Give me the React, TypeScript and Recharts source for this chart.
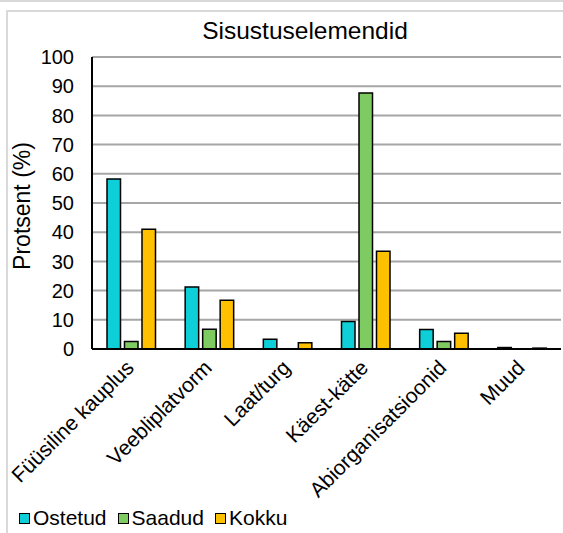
import { BarChart, Bar, XAxis, YAxis, CartesianGrid } from 'recharts';

const categories = ['Füüsiline kauplus', 'Veebliplatvorm', 'Laat/turg', 'Käest-kätte', 'Abiorganisatsioonid', 'Muud'];
const ostetud = [58.2, 21.2, 3.3, 9.4, 6.7, 0.5];
const saadud = [2.6, 6.8, 0, 87.7, 2.6, 0];
const kokku = [41, 16.7, 2.1, 33.5, 5.4, 0.3];
const yTicks = [0, 10, 20, 30, 40, 50, 60, 70, 80, 90, 100];

const series = [
  { name: 'Ostetud', values: ostetud, color: '#0ECFD8' },
  { name: 'Saadud', values: saadud, color: '#7ECB61' },
  { name: 'Kokku', values: kokku, color: '#FFC000' },
];

const data = categories.map((cat, i) => {
  const row: Record<string, string | number> = { category: cat };
  series.forEach((s) => {
    row[s.name] = s.values[i];
  });
  return row;
});

const FONT = '"Liberation Sans", Arial, sans-serif';

function CategoryTick({ x, y, payload }: any) {
  const ax = x + 4;
  const ay = y + 12;
  return (
    <text
      x={ax}
      y={ay}
      transform={`rotate(-45 ${ax} ${ay})`}
      textAnchor="end"
      fontSize={21}
      fontFamily={FONT}
      fill="#000"
    >
      {payload.value}
    </text>
  );
}

function YLabel({ viewBox }: any) {
  const x = (viewBox?.x ?? 0) + 22;
  const y = (viewBox?.y ?? 0) + (viewBox?.height ?? 0) / 2 + 3;
  return (
    <text
      x={x}
      y={y}
      transform={`rotate(-90 ${x} ${y})`}
      textAnchor="middle"
      dominantBaseline="central"
      fontSize={23}
      fontFamily={FONT}
      fill="#000"
    >
      Protsent (%)
    </text>
  );
}

export default function App() {
  return (
    <div style={{ position: 'absolute', left: 0, top: 0, width: 563, height: 533, background: '#fff', overflow: 'hidden', fontFamily: FONT }}>
      <div style={{ position: 'absolute', left: 0, top: 0, width: 563, height: 2, background: '#d9d9d9' }} />
      <div style={{ position: 'absolute', left: 6, top: 10, width: 600, height: 600, border: '2px solid #d9d9d9', boxSizing: 'border-box' }} />
      <div style={{ position: 'absolute', left: 155, top: 19, width: 300, textAlign: 'center', fontSize: 24.5, lineHeight: 1, color: '#000', whiteSpace: 'nowrap' }}>
        Sisustuselemendid
      </div>
      <div style={{ position: 'absolute', left: 0, top: 0 }}>
        <BarChart
          width={563}
          height={533}
          data={data}
          margin={{ top: 57, right: 2, bottom: 0, left: 0 }}
          barSize={13.5}
          barGap={4}
        >
          <CartesianGrid vertical={false} stroke="#a6a6a6" strokeWidth={2} />
          <XAxis
            dataKey="category"
            height={184}
            interval={0}
            tickLine={false}
            axisLine={{ stroke: '#000', strokeWidth: 2 }}
            tick={<CategoryTick />}
          />
          <XAxis xAxisId="top" dataKey="category" orientation="top" height={0} tick={false} tickLine={false} axisLine={{ stroke: '#000', strokeWidth: 2 }} />
          <YAxis
            width={92}
            domain={[0, 100]}
            ticks={yTicks}
            interval={0}
            tickLine={false}
            tickMargin={12}
            axisLine={{ stroke: '#000', strokeWidth: 2 }}
            tick={{ fill: '#000', fontSize: 20, fontFamily: FONT }}
            label={<YLabel />}
          />
          <YAxis yAxisId="right" orientation="right" width={0} domain={[0, 100]} tick={false} tickLine={false} axisLine={{ stroke: '#000', strokeWidth: 2 }} />
          {series.map((s) => (
            <Bar key={s.name} dataKey={s.name} fill={s.color} stroke="#000" strokeWidth={1.5} isAnimationActive={false} />
          ))}
        </BarChart>
      </div>
      <div style={{ position: 'absolute', left: 19, top: 506, display: 'flex', alignItems: 'center', fontSize: 21, color: '#000' }}>
        {series.map((s) => (
          <div key={s.name} style={{ display: 'flex', alignItems: 'center', marginRight: 11 }}>
            <span style={{ display: 'inline-block', width: 11, height: 11, background: s.color, border: '1.5px solid #000', boxSizing: 'border-box', marginRight: 3 }} />
            <span>{s.name}</span>
          </div>
        ))}
      </div>
    </div>
  );
}
